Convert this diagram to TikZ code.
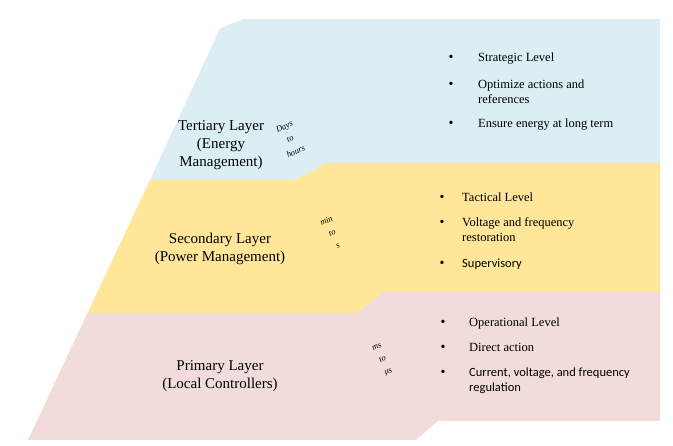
\documentclass[tikz,border=0pt]{standalone}
\usepackage{fontspec}
\setmainfont{Liberation Serif}
\newfontfamily\calib{Carlito}
\usepackage{xcolor}
\usetikzlibrary{positioning}
\definecolor{tertBlue}{RGB}{218,238,243}
\definecolor{secYellow}{RGB}{255,230,153}
\definecolor{primPink}{RGB}{242,220,219}
\tikzset{
  layer/.style={draw=none},
  title/.style={align=center, font=\fontsize{15}{18}\selectfont, inner sep=0pt},
  rate/.style={align=center, font=\fontsize{8.5}{13.5}\selectfont\itshape, rotate=25, inner sep=0pt},
  item/.style={anchor=base west, align=left, font=\fontsize{12.5}{15}\selectfont, inner sep=0pt},
  bul/.style={anchor=base, font=\fontsize{14}{15}\selectfont, inner sep=0pt}
}

\begin{document}
\begin{tikzpicture}[x=1pt, y=-1pt]
  \useasboundingbox (0,0) rectangle (673,446);

  \fill[layer, tertBlue] (150,180) -- (220,28.5) -- (243,19) -- (660,19) -- (660,163)
    -- (327,163) -- (295,180) -- cycle;
  \fill[layer, secYellow] (87.5,313) -- (150,180) -- (295,180) -- (327,163) -- (660,163)
    -- (660,292) -- (383,292) -- (357,313) -- cycle;
  \fill[layer, primPink] (28,440) -- (87.5,313) -- (357,313) -- (383,292) -- (660,292)
    -- (660,421) -- (438,421) -- (416,440) -- cycle;

  \node[title] (tert) at (221,145) {Tertiary Layer\\(Energy\\Management)};
  \node[title] (sec) at (220,249) {Secondary Layer\\(Power Management)};
  \node[title] (prim) at (220,376) {Primary Layer\\(Local Controllers)};

  \node[rate] (tertRate) at (290,139) {Days\\to\\hours};
  \node[rate] (secRate) at (332,233) {min\\to\\s};
  \node[rate] (primRate) at (383,360) {ms\\to\\μs};

  \node[item] (t1) at (478,62) {Strategic Level};
  \node[item] (t2) at (478,104) {Optimize actions and\\references};
  \node[item] (t3) at (478,128) {Ensure energy at long term};
  \node[bul] (tb1) at (451,62) {\textbullet};
  \node[bul] (tb2) at (451,89) {\textbullet};
  \node[bul] (tb3) at (451,128) {\textbullet};

  \node[item] (s1) at (462,202) {Tactical Level};
  \node[item] (s2) at (462,242) {Voltage and frequency\\restoration};
  \node[item, font=\fontsize{12.5}{15}\selectfont\calib] (s3) at (462,268) {Supervisory};
  \node[bul] (sb1) at (442,202) {\textbullet};
  \node[bul] (sb2) at (442,227) {\textbullet};
  \node[bul] (sb3) at (442,268) {\textbullet};

  \node[item] (p1) at (469,327) {Operational Level};
  \node[item] (p2) at (469,352) {Direct action};
  \node[item, font=\fontsize{12.5}{15}\selectfont\calib] (p3) at (469,392) {Current, voltage, and frequency\\regulation};
  \node[bul] (pb1) at (443,327) {\textbullet};
  \node[bul] (pb2) at (443,352) {\textbullet};
  \node[bul] (pb3) at (443,377) {\textbullet};
\end{tikzpicture}
\end{document}
